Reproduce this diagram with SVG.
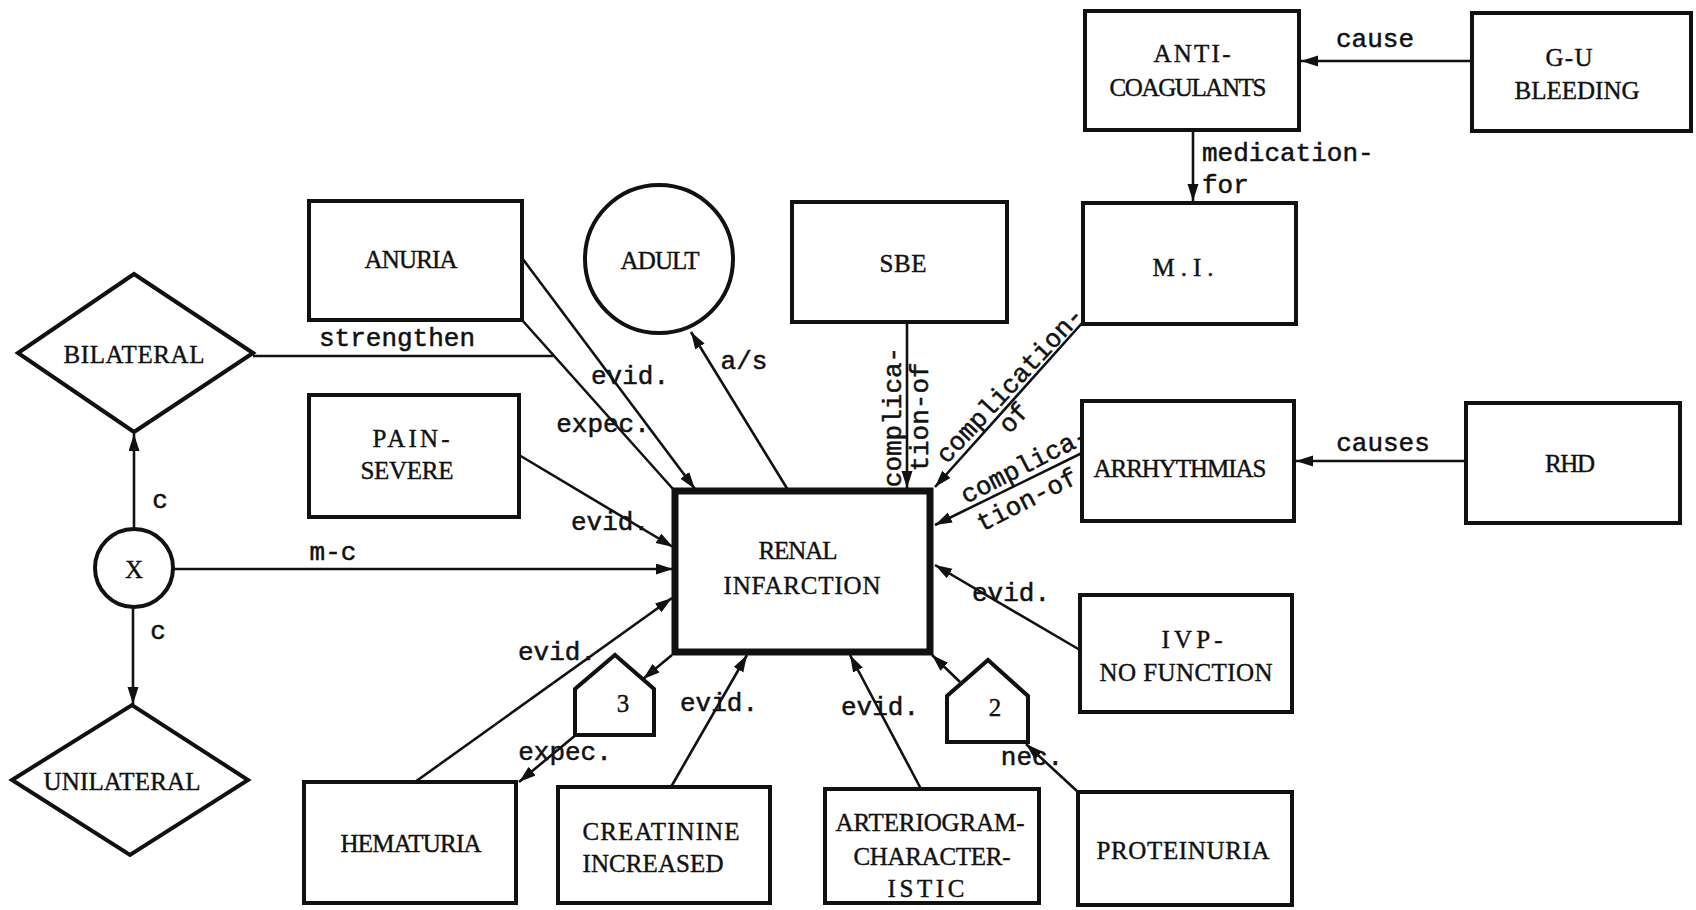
<svg xmlns="http://www.w3.org/2000/svg" width="1696" height="910" viewBox="0 0 1696 910">
<defs>
<style>
.n{fill:#fff;stroke:#111;stroke-width:4;stroke-linejoin:miter}
.c{stroke:#111;stroke-width:2.6;fill:none}
.a{marker-end:url(#ah)}
.l{font-family:"Liberation Mono","DejaVu Sans Mono",monospace;font-size:26px;fill:#111;stroke:#111;stroke-width:0.5}
.t{text-anchor:middle}
.nt{font-family:"Liberation Serif","DejaVu Serif",serif;font-size:25px;text-anchor:middle;fill:#111;stroke:#111;stroke-width:0.4}
</style>
<marker id="ah" markerUnits="userSpaceOnUse" markerWidth="18" markerHeight="12" refX="17" refY="5.5" orient="auto">
<path d="M0,0 L17,5.5 L0,11 z" fill="#111"/>
</marker>
</defs>
<rect width="1696" height="910" fill="#fff"/>

<g id="connectors">
<line class="c a" x1="1472" y1="61" x2="1301" y2="61"/>
<text x="1375" y="47" class="l t">cause</text>
<line class="c a" x1="1193" y1="130" x2="1193" y2="201"/>
<text x="1202" y="161" class="l">medication-</text>
<text x="1202" y="193" class="l">for</text>
<line class="c a" x1="907" y1="322" x2="907" y2="488"/>
<text class="l t" transform="translate(901,417) rotate(-90)">complica-</text>
<text class="l t" transform="translate(928,417) rotate(-90)">tion-of</text>
<line class="c a" x1="1083" y1="322" x2="935" y2="487"/>
<text class="l t" transform="translate(1010,385) rotate(-47) translate(0,8)">complication-</text>
<text class="l t" transform="translate(1014,418) rotate(-47) translate(0,8)">of</text>
<line class="c a" x1="1082" y1="453" x2="935" y2="525"/>
<text class="l t" transform="translate(1025,465) rotate(-27) translate(0,8)">complica-</text>
<text class="l t" transform="translate(1027,500) rotate(-27) translate(0,8)">tion-of</text>
<line class="c a" x1="1466" y1="461" x2="1296" y2="461"/>
<text x="1383" y="451" class="l t">causes</text>
<line class="c a" x1="1080" y1="650" x2="935" y2="565"/>
<text x="1011" y="601" class="l t">evid.</text>
<line class="c a" x1="1078" y1="792" x2="1026" y2="744"/>
<text x="1032" y="765" class="l t">nec.</text>
<line class="c a" x1="960" y1="682" x2="932" y2="655"/>
<line class="c a" x1="921" y1="789" x2="850" y2="655"/>
<text x="880" y="715" class="l t">evid.</text>
<line class="c a" x1="671" y1="787" x2="747" y2="655"/>
<text x="719" y="711" class="l t">evid.</text>
<line class="c a" x1="672" y1="655" x2="643" y2="679"/>
<line class="c a" x1="577" y1="734" x2="519" y2="782"/>
<text x="565" y="760" class="l t">expec.</text>
<line class="c a" x1="415" y1="782" x2="672" y2="598"/>
<text x="557" y="660" class="l t">evid.</text>
<line class="c a" x1="173" y1="569" x2="673" y2="569"/>
<text x="333" y="560" class="l t">m-c</text>
<line class="c a" x1="134" y1="529" x2="134" y2="434"/>
<text x="160" y="508" class="l t">c</text>
<line class="c a" x1="133" y1="607" x2="133" y2="704"/>
<text x="158" y="639" class="l t">c</text>
<line class="c" x1="253" y1="356" x2="553" y2="356"/>
<text x="397" y="346" class="l t">strengthen</text>
<line class="c" x1="522" y1="320" x2="673" y2="489"/>
<text x="603" y="432" class="l t">expec.</text>
<line class="c a" x1="522" y1="258" x2="695" y2="489"/>
<text x="630" y="384" class="l t">evid.</text>
<line class="c a" x1="519" y1="455" x2="673" y2="547"/>
<text x="610" y="530" class="l t">evid.</text>
<line class="c a" x1="788" y1="490" x2="691" y2="332"/>
<text x="744" y="369" class="l t">a/s</text>
</g>

<g id="anticoagulants"><rect class="n" x="1085" y="11" width="214" height="119"/><text class="nt" x="1192" y="62" textLength="77">ANTI-</text><text class="nt" x="1188" y="96" textLength="157">COAGULANTS</text></g>
<g id="gu-bleeding"><rect class="n" x="1472" y="13" width="219" height="118"/><text class="nt" x="1569" y="66" textLength="47">G-U</text><text class="nt" x="1577" y="99" textLength="125">BLEEDING</text></g>
<g id="mi"><rect class="n" x="1083" y="203" width="213" height="121"/><text class="nt" x="1183" y="276" textLength="61">M.I.</text></g>
<g id="sbe"><rect class="n" x="792" y="202" width="215" height="120"/><text class="nt" x="903" y="272" textLength="47">SBE</text></g>
<g id="adult"><circle class="n" cx="659" cy="259" r="74"/><text class="nt" x="660" y="269" textLength="79">ADULT</text></g>
<g id="anuria"><rect class="n" x="309" y="201" width="213" height="119"/><text class="nt" x="411" y="268" textLength="93">ANURIA</text></g>
<g id="bilateral"><polygon class="n" points="18,353 134,274 253,353 134,432"/><text class="nt" x="134" y="363" textLength="141">BILATERAL</text></g>
<g id="pain-severe"><rect class="n" x="309" y="395" width="210" height="122"/><text class="nt" x="411" y="447" textLength="77">PAIN-</text><text class="nt" x="407" y="479" textLength="93">SEVERE</text></g>
<g id="x"><circle class="n" cx="134" cy="568" r="39"/><text class="nt" x="134" y="578">X</text></g>
<g id="unilateral"><polygon class="n" points="12,780 132,705 248,780 130,855"/><text class="nt" x="122" y="790" textLength="157">UNILATERAL</text></g>
<g id="renal-infarction"><rect class="n" x="675" y="491" width="255" height="161" style="stroke-width:7"/><text class="nt" x="798" y="559" textLength="79">RENAL</text><text class="nt" x="802" y="594" textLength="157">INFARCTION</text></g>
<g id="arrhythmias"><rect class="n" x="1082" y="401" width="212" height="120"/><text class="nt" x="1180" y="477" textLength="173">ARRHYTHMIAS</text></g>
<g id="rhd"><rect class="n" x="1466" y="403" width="214" height="120"/><text class="nt" x="1570" y="472" textLength="50">RHD</text></g>
<g id="ivp"><rect class="n" x="1080" y="595" width="212" height="117"/><text class="nt" x="1192" y="648" textLength="61">IVP-</text><text class="nt" x="1186" y="681" textLength="173">NO FUNCTION</text></g>
<g id="hematuria"><rect class="n" x="304" y="782" width="212" height="121"/><text class="nt" x="411" y="852" textLength="141">HEMATURIA</text></g>
<g id="creatinine"><rect class="n" x="558" y="787" width="212" height="116"/><text class="nt" x="661" y="840" textLength="157">CREATININE</text><text class="nt" x="653" y="872" textLength="141">INCREASED</text></g>
<g id="arteriogram"><rect class="n" x="825" y="789" width="214" height="114"/><text class="nt" x="930" y="831" textLength="189">ARTERIOGRAM-</text><text class="nt" x="932" y="865" textLength="157">CHARACTER-</text><text class="nt" x="926" y="897" textLength="77">ISTIC</text></g>
<g id="proteinuria"><rect class="n" x="1078" y="792" width="214" height="113"/><text class="nt" x="1183" y="859" textLength="173">PROTEINURIA</text></g>
<g id="ref-3"><polygon class="n" points="615,655 654,689 654,735 575,735 575,689"/><text class="nt" x="623" y="712">3</text></g>
<g id="ref-2"><polygon class="n" points="988,660 1028,696 1028,742 947,742 947,696"/><text class="nt" x="995" y="716">2</text></g>
</svg>
